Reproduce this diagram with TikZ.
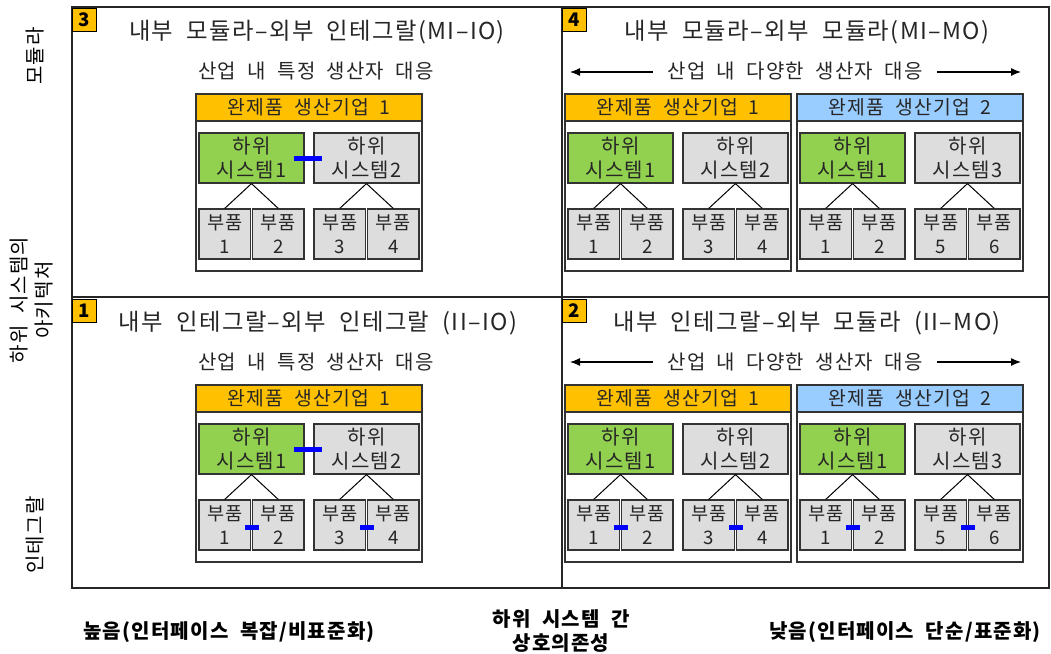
\documentclass[tikz,border=0pt]{standalone}
\usepackage{fontspec}
\setmainfont{Noto Sans CJK KR}[LetterSpace=6,WordSpace=2]
\usetikzlibrary{arrows.meta,calc}
\definecolor{orangeH}{HTML}{FFC000}
\definecolor{greenS}{HTML}{92D050}
\definecolor{grayS}{HTML}{DDDDDD}
\definecolor{blueH}{HTML}{99CCFF}
\definecolor{blueC}{HTML}{0000FF}
\definecolor{txt}{HTML}{262626}
\tikzset{
 frameln/.style={line width=1.5pt, draw=black!85},
 badge/.style={draw=black, line width=0.9pt, fill=orangeH, minimum width=17.5pt, minimum height=17.5pt, inner sep=0pt, font=\fontsize{14}{16}\selectfont\bfseries},
 qtitle/.style={font=\fontsize{17.5}{20}\selectfont, text=txt, inner sep=0pt},
 qsub/.style={font=\fontsize{15}{17}\selectfont, text=txt, inner sep=0pt},
 hdr/.style={draw=black!80, line width=0.9pt, minimum width=169.5pt, minimum height=20.25pt, inner sep=0pt, font=\fontsize{14.5}{17}\selectfont, text=txt},
 firmbody/.style={draw=black!80, line width=0.9pt, fill=white, minimum width=169.5pt, minimum height=112.5pt, inner sep=0pt},
 subsys/.style={draw=black!80, line width=0.9pt, minimum width=78.75pt, minimum height=37.5pt, inner sep=0pt, align=center, font=\fontsize{15}{17.5}\selectfont, text=txt},
 partbox/.style={draw=black!80, line width=0.9pt, fill=grayS, minimum width=38.6pt, minimum height=37.5pt, inner sep=0pt, align=center, font=\fontsize{14}{17.75}\selectfont, text=txt},
 tree/.style={line width=0.75pt, draw=black},
 ifc/.style={line width=3.75pt, draw=blueC},
 arr/.style={line width=0.9pt, draw=black, -{Latex[length=7.5pt,width=6pt]}},
 axislab/.style={font=\fontsize{15}{18.75}\selectfont, align=center, inner sep=0pt, text=black},
 axisbold/.style={font=\fontsize{15}{18}\selectfont\bfseries, align=center, inner sep=0pt, text=black},
}
\newcommand{\firmblock}[6]{%
 \node[firmbody] (#1body) at ({#2+113},{#3+102}) {};
 \node[hdr, fill=#4] (#1hdr) at ({#2+113},{#3+13.5}) {완제품 생산기업 #5};
 \node[subsys, fill=greenS] (#1sA) at ({#2+55.5},{#3+64}) {하위\\시스템1};
 \node[subsys, fill=grayS] (#1sB) at ({#2+170.5},{#3+64}) {하위\\시스템#6};
 \node[partbox] (#1p1) at ({#2+28.75},{#3+140}) {부품\\1};
 \node[partbox] (#1p2) at ({#2+82.25},{#3+140}) {부품\\2};
 \node[partbox] (#1p3) at ({#2+143.75},{#3+140}) {부품\\\the\numexpr2*#6-1\relax};
 \node[partbox] (#1p4) at ({#2+197.25},{#3+140}) {부품\\\the\numexpr2*#6\relax};
 \draw[tree] (#1sA.south) -- (#1p1.north);
 \draw[tree] (#1sA.south) -- (#1p2.north);
 \draw[tree] (#1sB.south) -- (#1p3.north);
 \draw[tree] (#1sB.south) -- (#1p4.north);
}
\begin{document}
\begin{tikzpicture}[x=0.75pt,y=-0.75pt]
\useasboundingbox (0,0) rectangle (1051,654);
% frame
\draw[frameln] (72,7) rectangle (1049,588);
\draw[frameln] (562,7) -- (562,588);
\draw[frameln] (72,297) -- (1049,297);
% badges
\node[badge] (b3) at (84.5,20) {3};
\node[badge] (b4) at (574.5,20) {4};
\node[badge] (b1) at (84.5,311) {1};
\node[badge] (b2) at (574.5,311) {2};
% titles
\node[qtitle] (t3) at (317,32) {내부 모듈라–외부 인테그랄(MI–IO)};
\node[qtitle] (t4) at (807,32) {내부 모듈라–외부 모듈라(MI–MO)};
\node[qtitle] (t1) at (318,323) {내부 인테그랄–외부 인테그랄 (II–IO)};
\node[qtitle] (t2) at (807,323) {내부 인테그랄–외부 모듈라 (II–MO)};
% subtitles
\node[qsub] (s3) at (316,71) {산업 내 특정 생산자 대응};
\node[qsub] (s4) at (795,71) {산업 내 다양한 생산자 대응};
\node[qsub] (s1) at (316,362) {산업 내 특정 생산자 대응};
\node[qsub] (s2) at (795,362) {산업 내 다양한 생산자 대응};
\coordinate (a4ls) at (653,72); \coordinate (a4le) at (570,72);
\coordinate (a4rs) at (937,72); \coordinate (a4re) at (1021,72);
\coordinate (a2ls) at (653,362); \coordinate (a2le) at (570,362);
\coordinate (a2rs) at (937,362); \coordinate (a2re) at (1021,362);
\draw[arr] (a4ls) -- (a4le);
\draw[arr] (a4rs) -- (a4re);
\draw[arr] (a2ls) -- (a2le);
\draw[arr] (a2rs) -- (a2re);
% firms
\firmblock{TL}{196}{94}{orangeH}{1}{2}
\firmblock{TRa}{565}{94}{orangeH}{1}{2}
\firmblock{TRb}{797}{94}{blueH}{2}{3}
\firmblock{BL}{196}{385}{orangeH}{1}{2}
\firmblock{BRa}{565}{385}{orangeH}{1}{2}
\firmblock{BRb}{797}{385}{blueH}{2}{3}
% interfaces
\draw[ifc] ($(TLsA.east)+(-11,0)$) -- ($(TLsB.west)+(9,0)$);
\draw[ifc] ($(BLsA.east)+(-11,0)$) -- ($(BLsB.west)+(9,0)$);
\draw[ifc] ($(BLp1.east)+(-6,2)$) -- ($(BLp2.west)+(7,2)$);
\draw[ifc] ($(BLp3.east)+(-6,2)$) -- ($(BLp4.west)+(7,2)$);
\draw[ifc] ($(BRap1.east)+(-6,2)$) -- ($(BRap2.west)+(7,2)$);
\draw[ifc] ($(BRap3.east)+(-6,2)$) -- ($(BRap4.west)+(7,2)$);
\draw[ifc] ($(BRbp1.east)+(-6,2)$) -- ($(BRbp2.west)+(7,2)$);
\draw[ifc] ($(BRbp3.east)+(-6,2)$) -- ($(BRbp4.west)+(7,2)$);
% axis labels
\node[axislab, rotate=90] (ymod) at (35,56) {모듈라};
\node[axislab, rotate=90] (yarch) at (31.5,300) {하위 시스템의\\아키텍처};
\node[axislab, rotate=90] (yint) at (35,535) {인테그랄};
\node[axisbold] (xhigh) at (229,632) {높음(인터페이스 복잡/비표준화)};
\node[axisbold] (xmid) at (561,631) {하위 시스템 간\\상호의존성};
\node[axisbold] (xlow) at (905,632) {낮음(인터페이스 단순/표준화)};
\end{tikzpicture}
\end{document}
